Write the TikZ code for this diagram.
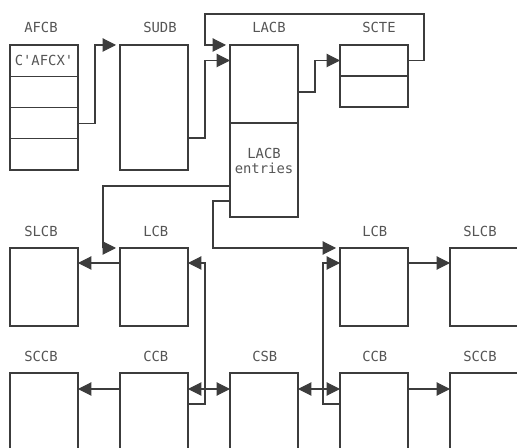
\documentclass[tikz,border=0pt]{standalone}
\usepackage{fontspec}
\setmonofont{DejaVu Sans Mono}
\usepackage{tikz}
\usetikzlibrary{arrows.meta,calc,positioning}
\definecolor{ink}{RGB}{60,60,60}
\definecolor{txt}{RGB}{85,85,85}

\begin{document}
\begin{tikzpicture}[x=0.75pt,y=-0.75pt, line join=miter, >={Triangle[length=10pt,width=10pt]},
    box/.style={draw=ink, line width=0.8pt, anchor=north west, inner sep=0pt, outer sep=0pt, minimum width=51pt},
    lbl/.style={font=\ttfamily\fontsize{10.4}{11.25}\selectfont, text=txt, inner sep=0pt},
    conn/.style={draw=ink, line width=0.8pt, ->},
    corner/.style={shorten >=3pt}]
    % frame
    \clip (0,0) rectangle (517,448);
    % top row
    \node[box, minimum height=93.75pt] (afcb) at (10,45) {};
    \node[box, minimum height=93.75pt] (sudb) at (120,45) {};
    \node[box, minimum height=129pt] (lacb) at (230,45) {};
    \node[box, minimum height=46.5pt] (scte) at (340,45) {};
    \foreach \f in {0.25,0.5,0.75} {
        \draw[ink, line width=0.8pt] ($(afcb.north west)!\f!(afcb.south west)$) -- ($(afcb.north east)!\f!(afcb.south east)$);
    }
    \draw[ink, line width=0.8pt] (scte.west) -- (scte.east);
    \draw[ink, line width=0.8pt] ($(lacb.north west)+(0,78)$) -- ($(lacb.north east)+(0,78)$);
    % middle row
    \node[box, minimum height=58.5pt] (slcbL) at (10,248) {};
    \node[box, minimum height=58.5pt] (lcbL) at (120,248) {};
    \node[box, minimum height=58.5pt] (lcbR) at (340,248) {};
    \node[box, minimum height=58.5pt, minimum width=60pt] (slcbR) at (450,248) {};
    % bottom row
    \node[box, minimum height=75pt] (sccbL) at (10,373) {};
    \node[box, minimum height=75pt] (ccbL) at (120,373) {};
    \node[box, minimum height=75pt] (csb) at (230,373) {};
    \node[box, minimum height=75pt] (ccbR) at (340,373) {};
    \node[box, minimum height=75pt, minimum width=60pt] (sccbR) at (450,373) {};
    % titles
    \node[lbl, above right=8.8pt and 10.5pt of afcb.north west] (afcbT) {AFCB};
    \node[lbl, above right=8.8pt and 17.25pt of sudb.north west] (sudbT) {SUDB};
    \node[lbl, above right=8.8pt and 16.5pt of lacb.north west] (lacbT) {LACB};
    \node[lbl, above right=8.8pt and 16.5pt of scte.north west] (scteT) {SCTE};
    \node[lbl, above right=8.5pt and 10.5pt of slcbL.north west] (slcbLT) {SLCB};
    \node[lbl, above right=8.5pt and 17.25pt of lcbL.north west] (lcbLT) {LCB};
    \node[lbl, above right=8.5pt and 16.5pt of lcbR.north west] (lcbRT) {LCB};
    \node[lbl, above right=8.5pt and 9.75pt of slcbR.north west] (slcbRT) {SLCB};
    \node[lbl, above right=8.5pt and 10.5pt of sccbL.north west] (sccbLT) {SCCB};
    \node[lbl, above right=8.5pt and 17.25pt of ccbL.north west] (ccbLT) {CCB};
    \node[lbl, above right=8.5pt and 16.5pt of csb.north west] (csbT) {CSB};
    \node[lbl, above right=8.5pt and 16.5pt of ccbR.north west] (ccbRT) {CCB};
    \node[lbl, above right=8.5pt and 9.75pt of sccbR.north west] (sccbRT) {SCCB};
    % contents
    \node[lbl] (afcbid) at ($(afcb.north)!0.12!(afcb.south)$) {C'AFCX'};
    \node[lbl, align=center] (lacbtxt) at ($(lacb.north)+(0,116)$) {LACB\\entries};
    % chain pointers
    \draw[conn,corner] ($(afcb.north east)!0.625!(afcb.south east)$) -- ++(17,0) |- (sudb.north west);
    \draw[conn] ($(sudb.north east)!0.744!(sudb.south east)$) -- ++(17,0) |- ($(lacb.north west)+(0,15.5)$);
    \draw[conn] ($(lacb.north east)+(0,47)$) -- ++(17,0) |- ($(scte.north west)!0.5!(scte.west)$);
    \draw[conn,corner] ($(scte.north east)!0.5!(scte.east)$) -- ++(16,0) -- ++(0,-46.5) -| ($(lacb.north west)+(-25,0)$) -- (lacb.north west);
    \draw[conn,corner] ($(lacb.north west)+(0,141)$) -| ($(lcbL.north west)+(-17,0)$) -- (lcbL.north west);
    \draw[conn,corner] ($(lacb.north west)+(0,156)$) -- ++(-17,0) |- (lcbR.north west);
    % middle and bottom rows
    \draw[conn] ($(lcbL.north west)+(0,15)$) -- ($(slcbL.north east)+(0,15)$);
    \draw[conn] ($(lcbR.north east)+(0,15)$) -- ($(slcbR.north west)+(0,15)$);
    \draw[conn] ($(ccbL.north west)+(0,16)$) -- ($(sccbL.north east)+(0,16)$);
    \draw[conn] ($(ccbR.north east)+(0,16)$) -- ($(sccbR.north west)+(0,16)$);
    \draw[conn,<->] ($(ccbL.north east)+(0,16)$) -- ($(csb.north west)+(0,16)$);
    \draw[conn,<->] ($(csb.north east)+(0,16)$) -- ($(ccbR.north west)+(0,16)$);
    \draw[conn] ($(ccbL.north east)+(0,31)$) -- ++(17,0) |- ($(lcbL.north east)+(0,15)$);
    \draw[conn] ($(ccbR.north west)+(0,31)$) -- ++(-17,0) |- ($(lcbR.north west)+(0,15)$);
\end{tikzpicture}
\end{document}
